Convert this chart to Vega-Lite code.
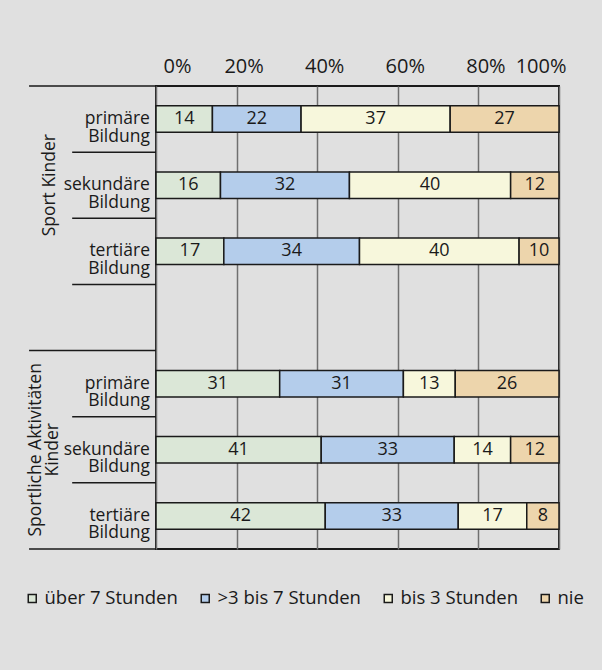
{
  "$schema": "https://vega.github.io/schema/vega-lite/v6.json",
  "width": 403,
  "height": 463,
  "autosize": {"type": "none"},
  "padding": {"left": 156, "top": 86, "right": 43, "bottom": 121},
  "background": "#e0e0e0",
  "config": {
    "font": "Open Sans",
    "view": {"stroke": "#1a1a1a", "strokeWidth": 2}
  },
  "datasets": {
    "balken": [
      {"zeile": "SK_p", "kategorie": "über 7 Stunden", "k": 1, "wert": 14},
      {"zeile": "SK_p", "kategorie": ">3 bis 7 Stunden", "k": 2, "wert": 22},
      {"zeile": "SK_p", "kategorie": "bis 3 Stunden", "k": 3, "wert": 37},
      {"zeile": "SK_p", "kategorie": "nie", "k": 4, "wert": 27},
      {"zeile": "SK_s", "kategorie": "über 7 Stunden", "k": 1, "wert": 16},
      {"zeile": "SK_s", "kategorie": ">3 bis 7 Stunden", "k": 2, "wert": 32},
      {"zeile": "SK_s", "kategorie": "bis 3 Stunden", "k": 3, "wert": 40},
      {"zeile": "SK_s", "kategorie": "nie", "k": 4, "wert": 12},
      {"zeile": "SK_t", "kategorie": "über 7 Stunden", "k": 1, "wert": 17},
      {"zeile": "SK_t", "kategorie": ">3 bis 7 Stunden", "k": 2, "wert": 34},
      {"zeile": "SK_t", "kategorie": "bis 3 Stunden", "k": 3, "wert": 40},
      {"zeile": "SK_t", "kategorie": "nie", "k": 4, "wert": 10},
      {"zeile": "SA_p", "kategorie": "über 7 Stunden", "k": 1, "wert": 31},
      {"zeile": "SA_p", "kategorie": ">3 bis 7 Stunden", "k": 2, "wert": 31},
      {"zeile": "SA_p", "kategorie": "bis 3 Stunden", "k": 3, "wert": 13},
      {"zeile": "SA_p", "kategorie": "nie", "k": 4, "wert": 26},
      {"zeile": "SA_s", "kategorie": "über 7 Stunden", "k": 1, "wert": 41},
      {"zeile": "SA_s", "kategorie": ">3 bis 7 Stunden", "k": 2, "wert": 33},
      {"zeile": "SA_s", "kategorie": "bis 3 Stunden", "k": 3, "wert": 14},
      {"zeile": "SA_s", "kategorie": "nie", "k": 4, "wert": 12},
      {"zeile": "SA_t", "kategorie": "über 7 Stunden", "k": 1, "wert": 42},
      {"zeile": "SA_t", "kategorie": ">3 bis 7 Stunden", "k": 2, "wert": 33},
      {"zeile": "SA_t", "kategorie": "bis 3 Stunden", "k": 3, "wert": 17},
      {"zeile": "SA_t", "kategorie": "nie", "k": 4, "wert": 8}
    ],
    "zeilen": [
      {"zeile": "SK_p", "label": "primäre\nBildung"},
      {"zeile": "SK_s", "label": "sekundäre\nBildung"},
      {"zeile": "SK_t", "label": "tertiäre\nBildung"},
      {"zeile": "SA_p", "label": "primäre\nBildung"},
      {"zeile": "SA_s", "label": "sekundäre\nBildung"},
      {"zeile": "SA_t", "label": "tertiäre\nBildung"}
    ],
    "trenner": [
      {"zeile": "SK_s"}, {"zeile": "SK_t"}, {"zeile": "gap"}, {"zeile": "SA_s"}, {"zeile": "SA_t"}
    ]
  },
  "layer": [
    {
      "data": {"name": "balken"},
      "transform": [
        {"stack": "wert", "groupby": ["zeile"], "offset": "normalize", "sort": [{"field": "k", "order": "ascending"}], "as": ["x0", "x1"]}
      ],
      "mark": {"type": "bar", "stroke": "#1a1a1a", "strokeWidth": 1.5},
      "encoding": {
        "y": {
          "field": "zeile", "type": "nominal",
          "scale": {"domain": ["SK_p", "SK_s", "SK_t", "gap", "SA_p", "SA_s", "SA_t"], "paddingInner": 0, "paddingOuter": 0},
          "axis": null
        },
        "x": {
          "field": "x0", "type": "quantitative",
          "scale": {"domain": [0, 1], "nice": false},
          "axis": {"orient": "top", "title": null, "values": [0, 0.2, 0.4, 0.6, 0.8, 1], "format": "%", "domain": false, "ticks": false, "grid": true, "gridColor": "#707070", "gridWidth": 1.5, "labelPadding": 10, "labelFontSize": 20, "labelOffset": 7, "labelColor": "#1a1a1a"}
        },
        "x2": {"field": "x1"},
        "size": {"value": 26.5},
        "color": {
          "field": "kategorie", "type": "nominal",
          "scale": {"domain": ["über 7 Stunden", ">3 bis 7 Stunden", "bis 3 Stunden", "nie"], "range": ["#dbe7d7", "#b4cdeb", "#f7f7dc", "#edd5ac"]},
          "legend": {
            "title": null, "orient": "none", "direction": "horizontal", "legendX": -133, "legendY": 503,
            "symbolType": "square", "symbolSize": 64, "symbolStrokeColor": "#1a1a1a", "symbolStrokeWidth": 1.5,
            "labelFontSize": 18.5, "labelColor": "#1a1a1a", "labelOffset": 3, "columnPadding": 18
          }
        }
      }
    },
    {
      "data": {"name": "balken"},
      "transform": [
        {"stack": "wert", "groupby": ["zeile"], "offset": "normalize", "sort": [{"field": "k", "order": "ascending"}], "as": ["x0", "x1"]},
        {"calculate": "(datum.x0 + datum.x1) / 2", "as": "xm"}
      ],
      "mark": {"type": "text", "fontSize": 18, "color": "#1a1a1a", "align": "center", "baseline": "middle"},
      "encoding": {
        "y": {"field": "zeile", "type": "nominal"},
        "x": {"field": "xm", "type": "quantitative"},
        "text": {"field": "wert", "type": "quantitative"}
      }
    },
    {
      "data": {"name": "zeilen"},
      "mark": {"type": "text", "fontSize": 17.5, "color": "#1a1a1a", "align": "right", "baseline": "middle", "lineBreak": "\n", "lineHeight": 17.5, "clip": false},
      "encoding": {
        "y": {"field": "zeile", "type": "nominal"},
        "x": {"datum": -0.015},
        "text": {"field": "label"}
      }
    },
    {
      "data": {"name": "trenner"},
      "mark": {"type": "rule", "color": "#1a1a1a", "strokeWidth": 1.5, "clip": false},
      "encoding": {
        "y": {"field": "zeile", "type": "nominal", "bandPosition": 0},
        "x": {"datum": -0.208},
        "x2": {"datum": 0}
      }
    },
    {
      "data": {"values": [{"zeile": "SK_p"}, {"zeile": "SA_p"}]},
      "mark": {"type": "rule", "color": "#1a1a1a", "strokeWidth": 1.5, "clip": false},
      "encoding": {
        "y": {"field": "zeile", "type": "nominal", "bandPosition": 0},
        "x": {"datum": -0.315},
        "x2": {"datum": 0}
      }
    },
    {
      "data": {"values": [{"zeile": "SA_t"}]},
      "mark": {"type": "rule", "color": "#1a1a1a", "strokeWidth": 1.5, "clip": false},
      "encoding": {
        "y": {"field": "zeile", "type": "nominal", "bandPosition": 1},
        "x": {"datum": -0.315},
        "x2": {"datum": 0}
      }
    },
    {
      "data": {"values": [{"zeile": "SK_s", "gruppe": "Sport Kinder"}]},
      "mark": {"type": "text", "angle": 270, "fontSize": 17.5, "color": "#1a1a1a", "align": "center", "baseline": "middle", "clip": false},
      "encoding": {
        "y": {"field": "zeile", "type": "nominal"},
        "x": {"datum": -0.263},
        "text": {"field": "gruppe"}
      }
    },
    {
      "data": {"values": [{"zeile": "SA_s", "gruppe": "Sportliche Aktivitäten\nKinder"}]},
      "mark": {"type": "text", "angle": 270, "fontSize": 17.5, "color": "#1a1a1a", "align": "center", "baseline": "middle", "lineBreak": "\n", "lineHeight": 17, "clip": false},
      "encoding": {
        "y": {"field": "zeile", "type": "nominal"},
        "x": {"datum": -0.298},
        "text": {"field": "gruppe"}
      }
    }
  ]
}
